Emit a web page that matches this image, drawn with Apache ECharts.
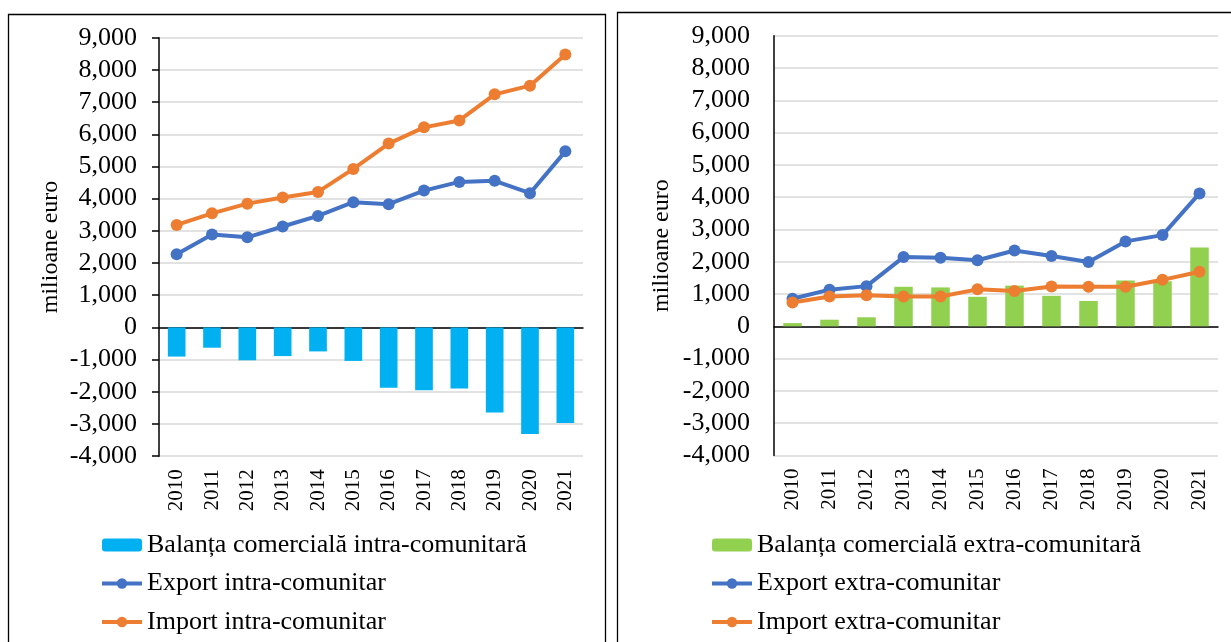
<!DOCTYPE html>
<html>
<head>
<meta charset="utf-8">
<script src="https://cdn.jsdelivr.net/npm/echarts@6/dist/echarts.min.js"></script>
<style>
  html, body { margin: 0; padding: 0; background: #fff; }
  #chart { width: 1231px; height: 642px; }
</style>
</head>
<body>
<div id="chart"></div>
<script>
var years = ["2010", "2011", "2012", "2013", "2014", "2015", "2016", "2017", "2018", "2019", "2020", "2021"];

// intra-comunitar (milioane euro)
var balantaIntra = [-905, -630, -1020, -890, -745, -1040, -1870, -1950, -1900, -2645, -3310, -2970];
var exportIntra = [2275, 2890, 2800, 3135, 3465, 3890, 3830, 4250, 4520, 4555, 4170, 5470];
var importIntra = [3185, 3545, 3845, 4035, 4210, 4925, 5710, 6215, 6430, 7240, 7510, 8475];

// extra-comunitar (milioane euro)
var balantaExtra = [100, 205, 280, 1225, 1205, 915, 1260, 945, 785, 1420, 1395, 2440];
var exportExtra = [855, 1135, 1245, 2145, 2125, 2045, 2350, 2175, 1995, 2630, 2825, 4115];
var importExtra = [735, 925, 960, 925, 925, 1145, 1095, 1235, 1225, 1225, 1440, 1690];

var yTicksMin = -4000;
var yTicksMax = 9000;
var yStep = 1000;

var fontFam = "Liberation Serif";
var colBarIntra = "#00B0F0";
var colBarExtra = "#92D050";
var colExport = "#4472C4";
var colImport = "#ED7D31";

function fmt(v) {
  return v.toLocaleString("en-US");
}

function yAxisFor(gridIndex, withTicks, gap) {
  return {
    type: "value",
    gridIndex: gridIndex,
    min: yTicksMin,
    max: yTicksMax,
    interval: yStep,
    name: "milioane euro",
    nameLocation: "middle",
    nameRotate: 90,
    nameGap: gap,
    nameTextStyle: { fontFamily: fontFam, fontSize: 24, color: "#000" },
    axisLine: { show: true, lineStyle: { color: "#000", width: 1.5 } },
    axisTick: { show: withTicks, length: 7, lineStyle: { color: "#000", width: 1.5 } },
    axisLabel: {
      fontFamily: fontFam,
      fontSize: 26,
      color: "#000",
      margin: withTicks ? 22 : 24,
      formatter: fmt
    },
    splitLine: { show: true, lineStyle: { color: "#d9d9d9", width: 1.5 } }
  };
}

// axis at zero draws the line, second axis at bottom carries the year labels
function xAxesFor(gridIndex) {
  return [
    {
      type: "category",
      gridIndex: gridIndex,
      data: years,
      axisLine: { onZero: true, lineStyle: { color: "#000", width: 1.5 } },
      axisTick: { show: false },
      axisLabel: { show: false }
    },
    {
      type: "category",
      gridIndex: gridIndex,
      data: years,
      position: "bottom",
      axisLine: { show: false, onZero: false },
      axisTick: { show: false },
      axisLabel: {
        rotate: 90,
        margin: 13,
        fontFamily: fontFam,
        fontSize: 21,
        color: "#000"
      }
    }
  ];
}

function lineSeries(name, data, color, xi, yi) {
  return {
    name: name,
    type: "line",
    xAxisIndex: xi,
    yAxisIndex: yi,
    data: data,
    symbol: "circle",
    symbolSize: 12,
    z: 3,
    itemStyle: { color: color },
    lineStyle: { color: color, width: 4 }
  };
}

function legendFor(left, names) {
  return {
    orient: "vertical",
    left: left,
    top: 531,
    height: 200,
    padding: 0,
    itemWidth: 40,
    itemHeight: 13,
    itemGap: 10.5,
    data: names,
    lineStyle: { width: 4 },
    textStyle: { fontFamily: fontFam, fontSize: 26, color: "#000", lineHeight: 28 }
  };
}

var chart = echarts.init(document.getElementById("chart"));

var xAxes = xAxesFor(0).concat(xAxesFor(1));

var option = {
  animation: false,
  backgroundColor: "#fff",
  graphic: [
    {
      type: "rect",
      shape: { x: 8.5, y: 14.5, width: 597, height: 700 },
      style: { fill: "none", stroke: "#000", lineWidth: 1.3 }
    },
    {
      type: "rect",
      shape: { x: 617.5, y: 12.5, width: 700, height: 700 },
      style: { fill: "none", stroke: "#000", lineWidth: 1.3 }
    }
  ],
  grid: [
    { left: 159, top: 37.7, width: 424, height: 418.5 },
    { left: 774, top: 35.7, width: 444, height: 419.8 }
  ],
  xAxis: xAxes,
  yAxis: [yAxisFor(0, true, 96), yAxisFor(1, false, 100)],
  legend: [
    legendFor(100, ["Balanța comercială intra-comunitară", "Export intra-comunitar", "Import intra-comunitar"]),
    legendFor(710, ["Balanța comercială extra-comunitară", "Export extra-comunitar", "Import extra-comunitar"])
  ],
  series: [
    {
      name: "Balanța comercială intra-comunitară",
      type: "bar",
      xAxisIndex: 0,
      yAxisIndex: 0,
      barWidth: "50%",
      data: balantaIntra,
      itemStyle: { color: colBarIntra }
    },
    lineSeries("Export intra-comunitar", exportIntra, colExport, 0, 0),
    lineSeries("Import intra-comunitar", importIntra, colImport, 0, 0),
    {
      name: "Balanța comercială extra-comunitară",
      type: "bar",
      xAxisIndex: 2,
      yAxisIndex: 1,
      barWidth: "50%",
      data: balantaExtra,
      itemStyle: { color: colBarExtra }
    },
    lineSeries("Export extra-comunitar", exportExtra, colExport, 2, 1),
    lineSeries("Import extra-comunitar", importExtra, colImport, 2, 1)
  ]
};

chart.setOption(option);
</script>
</body>
</html>
